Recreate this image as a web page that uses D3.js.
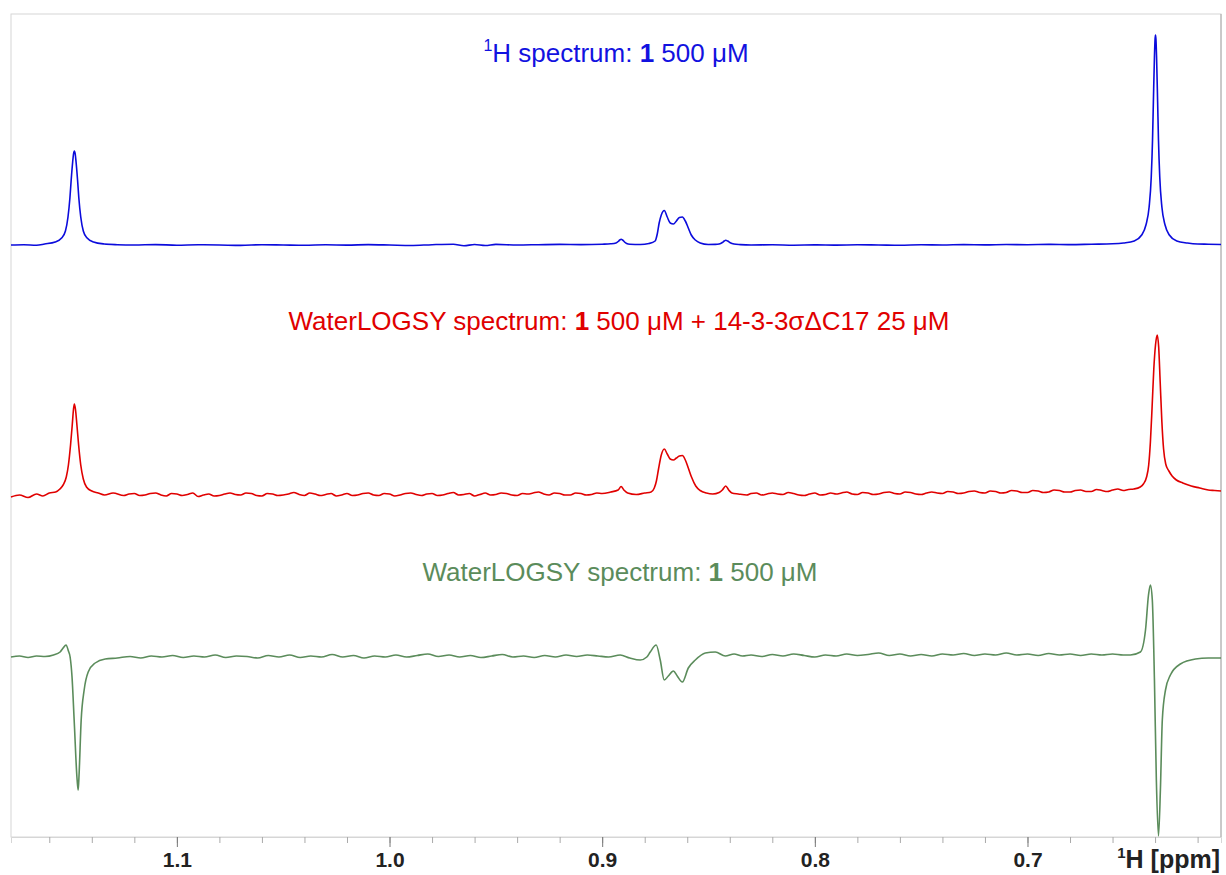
<!DOCTYPE html>
<html>
<head>
  <meta charset="UTF-8">
  <title>WaterLOGSY</title>
  <script src="https://d3js.org/d3.v7.min.js"></script>
  <style>
    body { margin: 0; background: #fff; }
    svg { display: block; font-family: "Liberation Sans", Arial, sans-serif; }
  </style>
</head>
<body>
  <div id="chart"></div>

  <script>
    // spectra as [ppm, intensity] (arbitrary units, stacked)
    const protonSpec = [
      [1.178,592],[1.172,592.3],[1.166,591.8],[1.1622,593],[1.1572,595],[1.1542,599],[1.1524,606],[1.1512,620],
      [1.1503,639],[1.1497,657],[1.149,675],[1.1486,683],[1.1482,686],[1.1478,683],[1.1474,675],[1.1467,657],
      [1.1461,639],[1.1452,620],[1.144,606],[1.1422,599],[1.1392,595],[1.1342,593],[1.128,592.3],[1.12,592],
      [1.11,592.4],[1.10,591.8],[1.09,592.2],[1.08,592],[1.07,591.6],[1.06,592.3],[1.05,592],[1.04,591.7],
      [1.03,592.2],[1.02,591.9],[1.01,592.4],[1.00,592],[0.99,591.5],[0.98,592.3],[0.97,592.8],[0.965,591.2],
      [0.96,592.5],[0.955,591.5],[0.95,592.6],[0.94,592],[0.93,592.3],[0.92,592.6],[0.91,592.4],[0.90,592.8],
      [0.896,593.2],[0.8935,594],[0.8925,595.5],[0.8917,597],[0.8911,597.8],[0.8904,597],[0.8895,595],
      [0.8885,593.5],[0.887,592.8],[0.882,592.5],[0.878,593.5],[0.8751,596],[0.8741,603],[0.8732,614],
      [0.8722,622],[0.8708,626.5],[0.8694,620],[0.868,614],[0.8665,613],[0.8651,616],[0.8637,619.5],
      [0.8623,620],[0.8609,616],[0.8595,609],[0.8581,602],[0.8562,597],[0.8539,594],[0.8501,592.5],
      [0.8468,592.6],[0.845,593],[0.8435,594.5],[0.8426,596],[0.8419,596.7],[0.841,596],[0.8398,594.3],
      [0.838,593],[0.835,592.4],[0.83,592],[0.82,592.3],[0.81,591.8],[0.80,592.1],[0.79,591.9],[0.78,592.2],
      [0.77,592],[0.76,591.7],[0.75,592.3],[0.74,592],[0.73,592.4],[0.72,592.1],[0.71,592.5],[0.70,592.3],
      [0.69,592.6],[0.68,592.4],[0.67,592.8],[0.66,593.2],[0.6548,594],[0.6498,596],[0.6463,602],[0.6443,612],
      [0.6428,630],[0.6418,660],[0.6412,697],[0.6408,735],[0.6403,780],[0.64,798],[0.6398,802],[0.6396,798],
      [0.6393,780],[0.6388,735],[0.6384,697],[0.6378,660],[0.6368,630],[0.6353,612],[0.6333,602],[0.6298,596],
      [0.6248,594],[0.62,593],[0.615,592.8],[0.609,592.5]
    ];

    const logsyComplex = [
      [1.178,340],[1.174,342],[1.17,339.5],[1.166,343],[1.163,341],[1.16,344],[1.157,345],[1.155,348],
      [1.1535,352],[1.152,360],[1.151,372],[1.15,392],[1.1492,412],[1.1486,428],[1.1482,433],[1.1477,428],
      [1.147,412],[1.1462,392],[1.1452,372],[1.144,358],[1.1425,350],[1.14,346],[1.137,344],[1.134,342],
      [1.13,344],[1.125,341.5],[1.1225,343],[1.12,343.5],[1.1175,341.5],[1.115,342],[1.1125,343.5],[1.11,344],
      [1.1075,342],[1.105,341],[1.1025,343.5],[1.10,343],[1.0975,341.5],[1.095,342.5],[1.0925,344],
      [1.09,340.5],[1.0875,342],[1.085,343],[1.0825,341],[1.08,341.5],[1.0775,343],[1.075,344],[1.0725,342.5],
      [1.07,342],[1.0675,344],[1.065,343.5],[1.0625,341.5],[1.06,341],[1.0575,343.5],[1.055,343],[1.0525,341.5],
      [1.05,342],[1.0475,343],[1.045,344.5],[1.0425,342.5],[1.04,341.5],[1.0375,344],[1.035,343],[1.0325,341.5],
      [1.03,342.5],[1.0275,343.5],[1.025,341],[1.0225,342],[1.02,343.5],[1.0175,341.5],[1.015,342],[1.0125,343.5],
      [1.01,344],[1.0075,342],[1.005,341.5],[1.0025,343.5],[1.00,343],[0.9975,341],[0.995,342],[0.9925,343.5],
      [0.99,344],[0.9875,342.5],[0.985,341.5],[0.9825,343],[0.98,343.5],[0.9775,341.5],[0.975,342],[0.9725,343.5],
      [0.97,344.5],[0.9675,342],[0.965,342.5],[0.9625,343.5],[0.96,341],[0.9575,342.5],[0.955,344],[0.9525,342],
      [0.95,342.5],[0.9475,344],[0.945,343.5],[0.9425,342],[0.94,341.5],[0.9375,343.5],[0.935,343],[0.9325,344],
      [0.93,345],[0.9275,343],[0.925,342],[0.9225,344],[0.92,343.5],[0.9175,342],[0.915,342],[0.9125,344],
      [0.91,343.5],[0.9075,342],[0.905,342.5],[0.9025,344],[0.90,343.5],[0.896,345],
      [0.8925,347],[0.8911,350.5],[0.8898,347],[0.888,344],[0.884,342.5],[0.88,344],[0.877,345],[0.8755,349],
      [0.8745,356],[0.8735,368],[0.8722,382],[0.8708,388],[0.8694,383],[0.868,378],[0.8665,377],[0.8651,379],
      [0.8637,381],[0.8623,381.5],[0.8609,377],[0.8595,369],[0.858,360],[0.856,351],[0.8539,346.5],[0.851,344],
      [0.848,343],[0.845,344.5],[0.8435,347],[0.8419,351],[0.8405,347],[0.839,344],[0.836,343],[0.832,342],
      [0.83,343.5],[0.8275,344],[0.825,342],[0.8225,343],[0.82,344],[0.8175,343],[0.815,342.5],[0.8125,344.5],
      [0.81,343.5],[0.8075,342],[0.805,341.5],[0.8025,343],[0.80,344],[0.7975,342],[0.795,342.5],[0.7925,344],
      [0.79,343],[0.7875,344],[0.785,345],[0.7825,343],[0.78,342.5],[0.7775,344.5],[0.775,344],[0.7725,342.5],
      [0.77,343],[0.7675,344.5],[0.765,345],[0.7625,343.5],[0.76,343],[0.7575,345],[0.755,344.5],[0.7525,343],
      [0.75,342.5],[0.7475,344],[0.745,345],[0.7425,344],[0.74,343.5],[0.7375,345.5],[0.735,345],[0.7325,343.5],
      [0.73,344],[0.7275,345.5],[0.725,346],[0.7225,344.5],[0.72,344],[0.7175,346],[0.715,345.5],[0.7125,344],
      [0.71,344.5],[0.7075,346.5],[0.705,346],[0.7025,344.5],[0.70,344.5],[0.6975,346.5],[0.695,346],[0.6925,344.5],
      [0.69,345],[0.6875,347],[0.685,346.5],[0.6825,345],[0.68,345],[0.6775,346.5],[0.675,347],[0.6725,345.5],
      [0.67,345.5],[0.6675,347.5],[0.665,346.5],[0.6625,345.5],[0.66,347],[0.6575,348],[0.655,346.5],[0.6525,347.5],
      [0.65,348],[0.647,350],[0.6455,353],[0.644,360],
      [0.643,372],[0.6422,395],[0.6414,430],[0.6406,468],[0.6398,492],[0.639,502],[0.6383,490],[0.6376,455],
      [0.6368,415],[0.636,388],[0.635,373],[0.6335,366],[0.632,361],[0.63,357],[0.627,354],[0.623,351],
      [0.619,349],[0.615,347],[0.612,346.5],[0.609,346]
    ];

    const logsyFree = [
      [1.178,180],[1.174,181],[1.17,179.5],[1.166,181],[1.162,180.5],[1.158,182],[1.1549,185],[1.1535,189],
      [1.1521,192],[1.151,186],[1.1502,180],[1.1493,160],[1.1483,117],[1.1469,57],[1.1464,47],[1.146,62],
      [1.145,117],[1.1436,147],[1.1417,165],[1.1384,174],[1.1337,178],[1.128,179],[1.122,180.5],[1.117,179],
      [1.112,181],[1.107,180],[1.102,181.5],[1.097,179.5],[1.092,181],[1.087,180],[1.082,182],[1.077,179.5],
      [1.072,181],[1.067,180.5],[1.062,179],[1.057,181.5],[1.052,180],[1.047,182],[1.042,179.5],[1.037,181],
      [1.032,180],[1.027,182.5],[1.022,180],[1.017,181.5],[1.012,179],[1.007,181],[1.002,180],[0.997,182],
      [0.992,180],[0.987,181.5],[0.982,183],[0.977,180.5],[0.972,182],[0.967,180],[0.962,181.5],[0.957,179.5],
      [0.952,181],[0.947,182.5],[0.942,180],[0.937,181],[0.932,179.5],[0.927,181.5],[0.922,180],[0.917,182],
      [0.912,180.5],[0.907,182],[0.902,181],[0.897,180],[0.8915,182],[0.887,179],[0.8821,177],[0.879,180],
      [0.8774,185],[0.8746,192],[0.8727,177],[0.8708,157],[0.8689,161],[0.8665,166],[0.8647,161],[0.8623,155],
      [0.8595,169],[0.8562,177],[0.8515,184],[0.8468,185],[0.8421,181],[0.838,183],[0.834,181],[0.83,182],
      [0.825,180.5],[0.82,182.5],[0.815,181],[0.81,183],[0.805,181.5],[0.80,180],[0.795,182],[0.79,181],
      [0.785,183],[0.78,181.5],[0.775,182.5],[0.77,184],[0.765,181.5],[0.76,183],[0.755,181],[0.75,182.5],
      [0.745,181],[0.74,183],[0.735,182],[0.73,183.5],[0.725,181.5],[0.72,183],[0.715,182],[0.71,184],
      [0.705,182],[0.70,183],[0.695,181.5],[0.69,183.5],[0.685,182],[0.68,183],[0.675,181.5],[0.67,183],
      [0.665,182],[0.66,183],[0.655,182],[0.6516,182],[0.6469,185],[0.6445,207],[0.6431,242],[0.6422,252],
      [0.6413,237],[0.6403,157],[0.6394,57],[0.6384,1],[0.6375,47],[0.6366,117],[0.6351,147],[0.6328,162],
      [0.6281,173],[0.621,178],[0.615,179],[0.609,179]
    ];

    const majorTicks = [1.1, 1.0, 0.9, 0.8, 0.7];
    const minorTicks = d3.range(0.62, 1.17, 0.02).map(v => +v.toFixed(2));

    const width = 1226, height = 875;
    const plotLeft = 11, plotRight = 1221, plotTop = 14, plotBottom = 837;

    const svg = d3.select("#chart").append("svg")
                  .attr("width", width)
                  .attr("height", height);

    const x = d3.scaleLinear().domain([1.178, 0.609]).range([plotLeft, plotRight]);
    const y = d3.scaleLinear().domain([0, 823]).range([plotBottom, plotTop]);

    // frame
    svg.append("rect")
       .attr("x", plotLeft).attr("y", plotTop)
       .attr("width", plotRight - plotLeft).attr("height", plotBottom - plotTop)
       .attr("fill", "none").attr("stroke", "#d6d6d6").attr("stroke-width", 1);
    svg.append("line")
       .attr("x1", plotRight).attr("x2", plotRight).attr("y1", plotTop).attr("y2", plotBottom)
       .attr("stroke", "#a8a8a8");

    // axis
    const minorAxis = d3.axisBottom(x).tickValues(minorTicks).tickSize(6).tickFormat("");
    const gMinor = svg.append("g").attr("transform", `translate(0,${plotBottom})`).call(minorAxis);
    gMinor.select(".domain").attr("stroke", "#d6d6d6");
    gMinor.selectAll(".tick line").attr("stroke", "#aaa");

    const majorAxis = d3.axisBottom(x).tickValues(majorTicks).tickSize(10).tickFormat(d3.format(".1f"));
    const gMajor = svg.append("g").attr("transform", `translate(0,${plotBottom})`).call(majorAxis);
    gMajor.select(".domain").remove();
    gMajor.selectAll(".tick line").attr("stroke", "#777");
    gMajor.selectAll(".tick text")
          .attr("y", 30).attr("dy", 0)
          .attr("font-family", "'Liberation Sans', Arial, sans-serif")
          .attr("font-size", 21).attr("font-weight", "bold").attr("fill", "#222");

    const axTitle = svg.append("text")
       .attr("x", 1220).attr("y", 868)
       .attr("text-anchor", "end")
       .attr("font-size", 25).attr("font-weight", "bold").attr("fill", "#222");
    axTitle.append("tspan").attr("font-size", 15).attr("dy", -10).text("1");
    axTitle.append("tspan").attr("dy", 10).text("H [ppm]");

    // traces
    const line = d3.line()
                   .x(d => x(d[0]))
                   .y(d => y(d[1]))
                   .curve(d3.curveMonotoneX);

    const traces = [
      { data: protonSpec, color: "#0b0bdc" },
      { data: logsyComplex, color: "#e00000" },
      { data: logsyFree, color: "#5b8c5b" }
    ];
    traces.forEach(t => {
      svg.append("path")
         .datum(t.data)
         .attr("fill", "none")
         .attr("stroke", t.color)
         .attr("stroke-width", 1.6)
         .attr("stroke-linejoin", "round")
         .attr("d", line);
    });

    // titles
    function title(parts, cx, baseY, color) {
      const t = svg.append("text")
                   .attr("x", cx).attr("y", baseY)
                   .attr("text-anchor", "middle")
                   .attr("font-size", 26).attr("fill", color);
      parts.forEach(p => {
        const s = t.append("tspan").text(p.t);
        if (p.b) s.attr("font-weight", "bold");
        if (p.sup) s.attr("font-size", 16).attr("dy", -11);
        if (p.down) s.attr("dy", 11);
      });
    }

    title([{t: "1", sup: true}, {t: "H spectrum: ", down: true}, {t: "1", b: true}, {t: " 500 μM"}],
          616, 62, "#1212e0");
    title([{t: "WaterLOGSY spectrum: "}, {t: "1", b: true}, {t: " 500 μM + 14-3-3σΔC17 25 μM"}],
          619, 330, "#e00000");
    title([{t: "WaterLOGSY spectrum: "}, {t: "1", b: true}, {t: " 500 μM"}],
          620, 581, "#5b8c5b");
  </script>
</body>
</html>
